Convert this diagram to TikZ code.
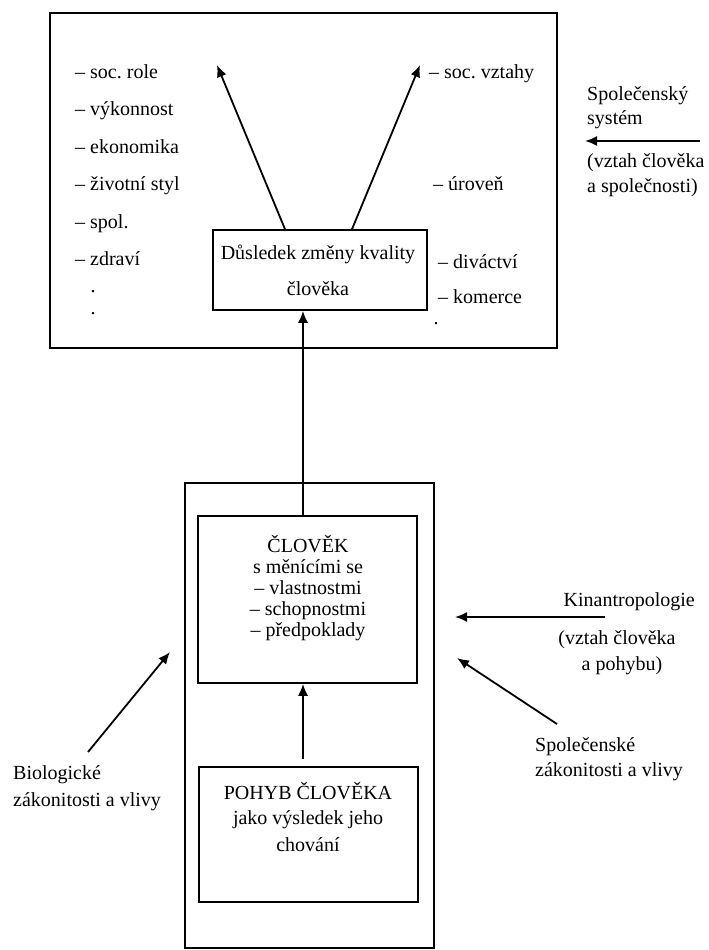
\documentclass[tikz,border=0pt]{standalone}
\usepackage{fontspec}
\setmainfont{Liberation Serif}
\usetikzlibrary{arrows.meta}
\frenchspacing
\begin{document}
\begin{tikzpicture}[x=1pt,y=-1pt,
 lbl/.style={inner sep=0pt, font=\fontsize{20}{23}\selectfont},
 lw/.style={lbl, anchor=base west},
 lc/.style={lbl, anchor=base},
 le/.style={lbl, anchor=base east},
 box/.style={draw, line width=1.6pt, inner sep=0pt},
 arr/.style={line width=1.8pt, -{Latex[length=12pt,width=10pt]}}]
\useasboundingbox (0,0) rectangle (709,950);

% boxes
\node[box, minimum width=507pt, minimum height=335pt] (topbox) at (303.5,180.5) {};
\node[box, minimum width=214pt, minimum height=80pt] (cons) at (320,270) {};
\node[box, minimum width=249pt, minimum height=465pt] (lowbox) at (309.5,715.5) {};
\node[box, minimum width=219pt, minimum height=167pt] (clovek) at (307.5,599.5) {};
\node[box, minimum width=219pt, minimum height=135pt] (pohyb) at (308.5,834.5) {};

% text in consequence box
\node[lc] (c1) at (318,259) {Důsledek změny kvality};
\node[lc] (c2) at (318,295) {člověka};

% left list
\node[lw] (l1) at (75,78) {– soc. role};
\node[lw] (l2) at (75,115) {– výkonnost};
\node[lw] (l3) at (75,153) {– ekonomika};
\node[lw] (l4) at (75,190) {– životní styl};
\node[lw] (l5) at (75,228) {– spol.};
\node[lw] (l6) at (75,265) {– zdraví};
\node[lc] (l7) at (93,292) {.};
\node[lc] (l8) at (93,314) {.};

% right list
\node[lw] (r1) at (429,78) {– soc. vztahy};
\node[lw] (r2) at (433,190) {– úroveň};
\node[lw] (r3) at (438,268) {– diváctví};
\node[lw] (r4) at (438,303) {– komerce};
\node[lc] (r5) at (436,324) {.};

% arrows from consequence box
\coordinate (tl) at (217,65);
\coordinate (tr) at (420,65);
\draw[arr] (cons.north -| 285,0) -- (tl);
\draw[arr] (cons.north -| 352,0) -- (tr);

% Spolecensky system
\node[lw] (s1) at (587,100) {Společenský};
\node[lw] (s2) at (587,124) {systém};
\coordinate (sa) at (700,141);
\coordinate (sb) at (585,141);
\draw[arr] (sa) -- (sb);
\node[lw] (s3) at (587,167) {(vztah člověka};
\node[lw] (s4) at (587,192) {a společnosti)};

% vertical arrows
\coordinate (vx) at (303,0);
\draw[arr] (clovek.north -| vx) -- (cons.south -| vx);
\draw[arr, shorten <=7pt] (pohyb.north -| vx) -- (clovek.south -| vx);

% CLOVEK text
\node[lc] (k1) at (308,552) {ČLOVĚK};
\node[lc] (k2) at (308,573) {s měnícími se};
\node[lc] (k3) at (308,594) {– vlastnostmi};
\node[lc] (k4) at (308,615) {– schopnostmi};
\node[lc] (k5) at (308,636) {– předpoklady};

% POHYB text
\node[lc] (p1) at (308,799) {POHYB ČLOVĚKA};
\node[lc] (p2) at (308,824) {jako výsledek jeho};
\node[lc] (p3) at (308,851) {chování};

% left influence
\node[lw] (b1) at (13,779) {Biologické};
\node[lw] (b2) at (13,806) {zákonitosti a vlivy};
\coordinate (ba) at (88,752);
\coordinate (bb) at (170,652);
\draw[arr] (ba) -- (bb);

% right influences
\node[le] (kin) at (695,606) {Kinantropologie};
\coordinate (ka) at (605,617);
\coordinate (kb) at (455,617);
\draw[arr] (ka) -- (kb);
\node[lc] (kv1) at (617,644) {(vztah člověka};
\node[lc] (kv2) at (622,670) {a pohybu)};

\coordinate (sza) at (557,724);
\coordinate (szb) at (457,658);
\draw[arr] (sza) -- (szb);
\node[lw] (sz1) at (535,751) {Společenské};
\node[lw] (sz2) at (535,776) {zákonitosti a vlivy};
\end{tikzpicture}
\end{document}
